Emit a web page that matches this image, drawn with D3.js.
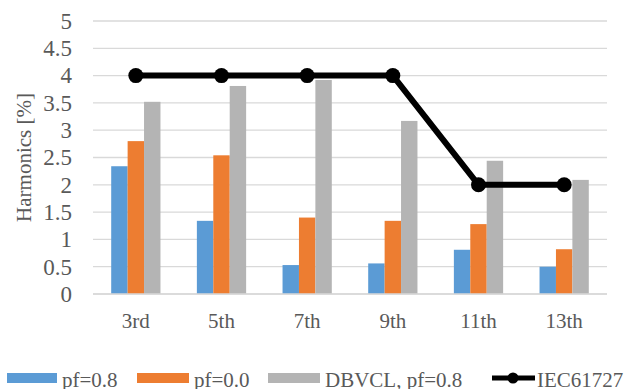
<!DOCTYPE html>
<html>
<head>
<meta charset="utf-8">
<script src="https://cdn.jsdelivr.net/npm/d3@7"></script>
<style>
  body { margin: 0; background: #fff; }
  text { font-family: "Liberation Serif", "Times New Roman", serif; fill: #595959; }
</style>
</head>
<body>
<div id="chart"></div>
<script>
// data
const categories = ["3rd", "5th", "7th", "9th", "11th", "13th"];
const seriesNames = ["pf=0.8", "pf=0.0", "DBVCL, pf=0.8"];
const pf08 = [2.34, 1.34, 0.53, 0.56, 0.81, 0.50];
const pf00 = [2.80, 2.54, 1.40, 1.34, 1.28, 0.82];
const dbvcl = [3.52, 3.81, 3.92, 3.17, 2.44, 2.09];
const iecName = "IEC61727";
const iec = [4, 4, 4, 4, 2, 2];
const yTicks = [0, 0.5, 1, 1.5, 2, 2.5, 3, 3.5, 4, 4.5, 5];

const colors = ["#5b9bd5", "#ed7d31", "#b4b4b4"];
const barSeries = [pf08, pf00, dbvcl];

const width = 629, height = 389;
const plot = {left: 93, right: 607, top: 21, bottom: 294};

const svg = d3.select("#chart").append("svg")
    .attr("width", width)
    .attr("height", height);

const y = d3.scaleLinear().domain([0, 5]).range([plot.bottom, plot.top]);
const x0 = d3.scaleBand().domain(categories).range([plot.left, plot.right]).padding(0);
const groupW = x0.bandwidth() * 0.575;
const x1 = d3.scaleBand().domain(d3.range(barSeries.length))
    .range([(x0.bandwidth() - groupW) / 2, (x0.bandwidth() + groupW) / 2]);

// gridlines
svg.append("g")
  .selectAll("line")
  .data(yTicks)
  .join("line")
    .attr("x1", plot.left)
    .attr("x2", plot.right)
    .attr("y1", d => y(d))
    .attr("y2", d => y(d))
    .attr("stroke", "#d9d9d9")
    .attr("stroke-width", 1.3);

// y axis labels
const yAxis = svg.append("g")
    .attr("transform", `translate(${plot.left},0)`)
    .call(d3.axisLeft(y).tickValues(yTicks).tickSize(0).tickPadding(21).tickFormat(d3.format("")));
yAxis.select(".domain").remove();
yAxis.selectAll("text")
    .attr("font-size", 23)
    .attr("fill", "#595959");

svg.append("text")
    .attr("transform", `translate(31,${(plot.top + plot.bottom) / 2}) rotate(-90)`)
    .attr("text-anchor", "middle")
    .attr("font-size", 21)
    .text("Harmonics [%]");

// bars
barSeries.forEach((vals, si) => {
  svg.append("g")
    .selectAll("rect")
    .data(vals)
    .join("rect")
      .attr("x", (d, i) => x0(categories[i]) + x1(si))
      .attr("width", x1.bandwidth())
      .attr("y", d => y(d))
      .attr("height", d => y(0) - y(d))
      .attr("fill", colors[si]);
});

// baseline
svg.append("line")
    .attr("x1", plot.left).attr("x2", plot.right)
    .attr("y1", y(0)).attr("y2", y(0))
    .attr("stroke", "#d9d9d9")
    .attr("stroke-width", 1.5);

// x axis labels
const xAxis = svg.append("g")
    .attr("transform", `translate(0,${plot.bottom})`)
    .call(d3.axisBottom(x0).tickSize(0).tickPadding(19));
xAxis.select(".domain").remove();
xAxis.selectAll("text")
    .attr("font-size", 21)
    .attr("fill", "#595959");

// IEC line
const cx = (d, i) => x0(categories[i]) + x0.bandwidth() / 2;
svg.append("path")
    .datum(iec)
    .attr("fill", "none")
    .attr("stroke", "#000")
    .attr("stroke-width", 6)
    .attr("stroke-linejoin", "round")
    .attr("d", d3.line().x(cx).y(d => y(d)));
svg.append("g")
  .selectAll("circle")
  .data(iec)
  .join("circle")
    .attr("cx", cx)
    .attr("cy", d => y(d))
    .attr("r", 7.5)
    .attr("fill", "#000");

// legend
const legendY = 378;
const legendItems = [
  {name: seriesNames[0], color: colors[0], x: 7, w: 50, tx: 62},
  {name: seriesNames[1], color: colors[1], x: 137, w: 52, tx: 194},
  {name: seriesNames[2], color: colors[2], x: 268, w: 52, tx: 325}
];
const legend = svg.append("g");
legendItems.forEach(it => {
  legend.append("rect")
      .attr("x", it.x).attr("y", legendY - 5)
      .attr("width", it.w).attr("height", 10)
      .attr("fill", it.color);
  legend.append("text")
      .attr("x", it.tx).attr("y", legendY + 9)
      .attr("font-size", 21)
      .text(it.name);
});
legend.append("line")
    .attr("x1", 492).attr("x2", 535)
    .attr("y1", legendY).attr("y2", legendY)
    .attr("stroke", "#000").attr("stroke-width", 5);
legend.append("circle")
    .attr("cx", 513).attr("cy", legendY).attr("r", 5.5).attr("fill", "#000");
legend.append("text")
    .attr("x", 537).attr("y", legendY + 9)
    .attr("font-size", 21)
    .text(iecName);
</script>
</body>
</html>
